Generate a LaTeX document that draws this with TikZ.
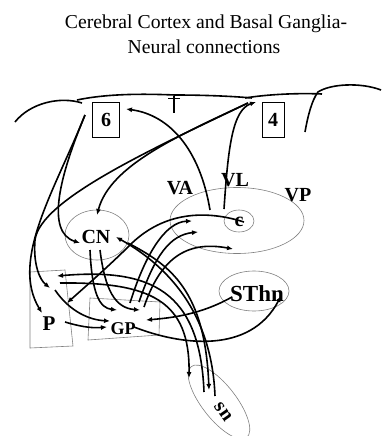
\documentclass[tikz,border=0pt]{standalone}
\usepackage{fontspec}
\setmainfont{Liberation Serif}
\usetikzlibrary{arrows.meta}
\begin{document}
\begin{tikzpicture}[x=1pt,y=-1pt,
  lab/.style={font=\bfseries\fontsize{20}{20}\selectfont,inner sep=0pt},
  fib/.style={line width=1.6pt},
  prj/.style={fib,-{Latex[length=6pt,width=5pt]}},
  rim/.style={gray,line width=0.6pt}]
\useasboundingbox (0,0) rectangle (381,436);
% title
\node[anchor=base,font=\fontsize{19.7}{24}\selectfont](ttl1) at (206,29){Cerebral Cortex and Basal Ganglia-};
\node[anchor=base,font=\fontsize{19.7}{24}\selectfont](ttl2) at (204,54){Neural connections};
% cortex surface
\draw[fib](15,122)..controls(30,103)and(60,96)..(82,103);
\draw[fib](77,100)..controls(110,93)and(150,94)..(175,95)..controls(200,95)and(230,96)..(252,98);
\draw[fib](245,98)..controls(270,94)and(300,93)..(322,94);
\draw[fib](305,132)..controls(308,115)and(312,100)..(318,92)..controls(330,84)and(360,82)..(381,90);
\draw[fib](174,96)--(174,113);
\draw[line width=0.9pt](168,98)--(180,98);
% areas
\node[lab,draw,line width=1pt,minimum width=27pt,minimum height=35pt](ar6) at (106,120){6};
\node[lab,draw,line width=1pt,minimum width=22pt,minimum height=35pt](ar4) at (273,120){4};
% nuclei
\draw[rim](237,220.5)ellipse(67 and 33);
\draw[rim](239,221)ellipse(15 and 11);
\draw[rim](97,235)ellipse(32 and 25);
\draw[rim](254,291)ellipse(35 and 20);
\draw[rim,rotate around={-52:(219,402)}](219,402)ellipse(45 and 17);
\draw[rim](30,272)--(65,270)--(73,346)--(30,348)--cycle;
\draw[rim](90,298)--(160,302)--(159,335)--(88,340)--cycle;
\node[lab](va) at (180,188){VA};
\node[lab](vl) at (235,180){VL};
\node[lab](vp) at (298,195){VP};
\node[lab](cm) at (239,222){c};
\node[lab](cn) at (96,237){CN};
\node[lab,font=\bfseries\fontsize{23}{23}\selectfont](sth) at (257,294){SThn};
\node[lab,font=\bfseries\fontsize{21}{21}\selectfont](put) at (49,324){P};
\node[lab,font=\bfseries\fontsize{18}{18}\selectfont](gp) at (123,329){GP};
\node[lab,rotate=-55](sn) at (223,412){s\kern1.5pt n};
% ends of the fibres
\coordinate (a6) at (85,115);
\coordinate (a4) at (248,103);
\coordinate (to6) at (126,109);
\coordinate (to4) at (256,102);
\coordinate (fromva) at (210,210);
\coordinate (fromvl) at (224,209);
\coordinate (cnl) at (80,243);
\coordinate (cnt) at (97,215);
\coordinate (cnr) at (116,237);
\coordinate (cnr2) at (128,243);
\coordinate (cnb1) at (90,250);
\coordinate (cnb2) at (100,250);
\coordinate (pt1) at (42,313);
\coordinate (pt2) at (50,288);
\coordinate (pt3) at (57,276);
\coordinate (pt4) at (60,283);
\coordinate (pt5) at (55,290);
\coordinate (pt6) at (65,322);
\coordinate (pt7) at (67,303);
\coordinate (gpl1) at (110,321);
\coordinate (gpl2) at (107,327);
\coordinate (gpt1) at (117,310);
\coordinate (gpt2) at (140,310);
\coordinate (gpo1) at (130,303);
\coordinate (gpo2) at (139,302);
\coordinate (gpo3) at (144,307);
\coordinate (gpr) at (146,320);
\coordinate (gpo4) at (134,327);
\coordinate (th1) at (192,221);
\coordinate (th2) at (198,232);
\coordinate (th3) at (233,249);
\coordinate (cmw) at (244,222);
\coordinate (sthw) at (232,297);
\coordinate (sthe) at (281,296);
\coordinate (sn1) at (189,378);
\coordinate (sn2) at (204,392);
\coordinate (sn3) at (209,390);
\coordinate (sn4) at (215,396);
% cortex to striatum
\draw[prj](a6)..controls(60,175)and(45,232)..(cnl);
\draw[prj](a6)..controls(55,190)and(10,260)..(pt1);
\draw[prj](a4)..controls(180,135)and(110,165)..(cnt);
\draw[prj](a4)..controls(150,150)and(40,200)..(35,240)..controls(33,265)and(40,280)..(pt2);
% thalamus to cortex
\draw[prj](fromva)..controls(200,150)and(170,115)..(to6);
\draw[prj](fromvl)..controls(228,150)and(232,110)..(to4);
\draw[prj](cmw)..controls(200,208)and(160,215)..(130,245)..controls(110,265)and(85,287)..(pt7);
% striatum to pallidum
\draw[prj](cnb1)..controls(92,295)and(100,308)..(gpt1);
\draw[prj](cnb2)..controls(105,290)and(115,308)..(gpt2);
\draw[prj](pt5)..controls(70,312)and(90,320)..(gpl1);
\draw[prj](pt6)..controls(85,328)and(95,328)..(gpl2);
% pallidum to thalamus
\draw[prj](gpo1)..controls(145,255)and(165,222)..(th1);
\draw[prj](gpo2)..controls(155,255)and(170,235)..(th2);
\draw[prj](gpo3)..controls(160,260)and(185,240)..(th3);
% nigra
\draw[prj](sn4)..controls(212,320)and(175,270)..(cnr);
\draw[prj](cnr2)..controls(170,265)and(205,290)..(sn3);
\draw[prj](sn2)..controls(200,290)and(150,268)..(pt3);
\draw[prj](pt4)..controls(150,282)and(190,300)..(sn1);
% subthalamus
\draw[prj](sthw)..controls(200,315)and(170,318)..(gpr);
\draw[prj](gpo4)..controls(180,345)and(250,355)..(sthe);
\end{tikzpicture}
\end{document}
